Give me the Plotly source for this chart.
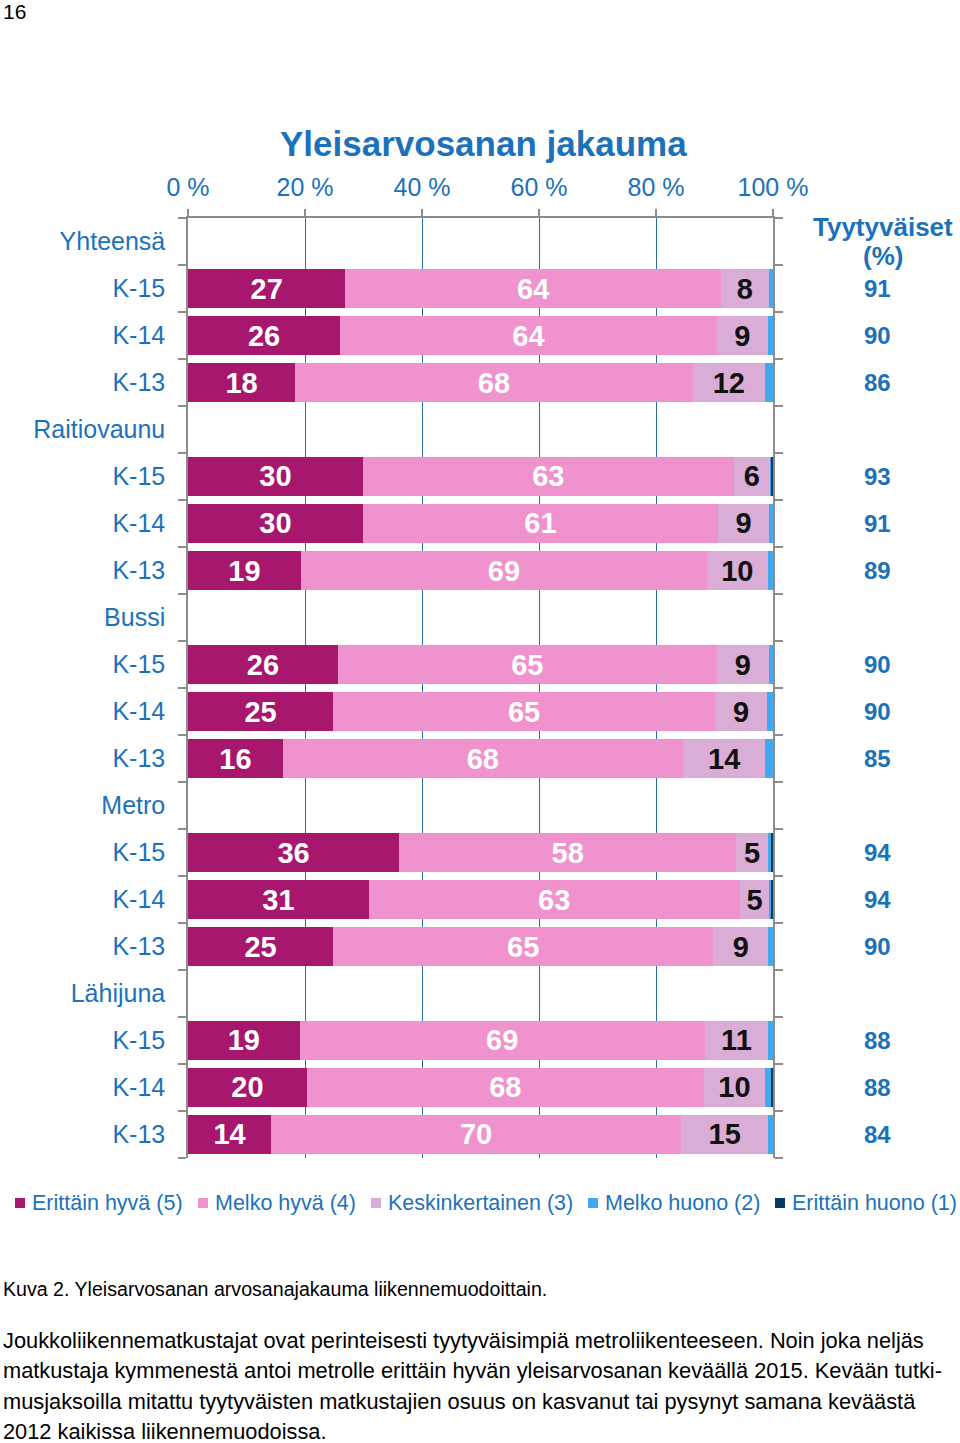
import plotly.graph_objects as go

# ---------------- data ----------------
groups = ["Yhteensä", "Raitiovaunu", "Bussi", "Metro", "Lähijuna"]
periods = ["K-15", "K-14", "K-13"]

erittain_hyva   = [26.9, 26.0, 18.3, 29.9, 29.9, 19.3, 25.6, 24.8, 16.2, 36.1, 30.9, 24.8, 19.1, 20.3, 14.2]
melko_hyva      = [64.2, 64.4, 68.0, 63.4, 60.7, 69.4, 64.8, 65.3, 68.4, 57.6, 63.4, 65.0, 69.2, 67.9, 70.1]
keskinkertainen = [8.2, 8.7, 12.3, 6.2, 8.7, 10.4, 8.9, 8.9, 14.1, 5.4, 5.1, 9.4, 10.9, 10.4, 14.9]
melko_huono     = [0.7, 0.9, 1.4, 0.3, 0.7, 0.9, 0.7, 1.0, 1.3, 0.5, 0.4, 0.8, 0.8, 1.0, 0.8]
erittain_huono  = [0.0, 0.0, 0.0, 0.3, 0.0, 0.0, 0.0, 0.0, 0.0, 0.4, 0.2, 0.0, 0.0, 0.4, 0.0]
tyytyvaiset     = [91, 90, 86, 93, 91, 89, 90, 90, 85, 94, 94, 90, 88, 88, 84]

series_names = ["Erittäin hyvä (5)", "Melko hyvä (4)", "Keskinkertainen (3)",
                "Melko huono (2)", "Erittäin huono (1)"]
series_colors = ["#A8176E", "#EF92CD", "#D9ADD6", "#40A9F0", "#0B3A60"]
label_colors = ["white", "white", "#111111", None, None]

x_ticks = [0, 20, 40, 60, 80, 100]

# ---------------- build rows ----------------
keys, labels, data_keys = [], [], []
for g in groups:
    keys.append(g)
    labels.append(g)
    for p in periods:
        k = f"{g} {p}"
        keys.append(k)
        labels.append(p)
        data_keys.append(k)

W, H = 960, 1443
L, R, T, B = 188, 773, 218, 1158  # plot area in pixels


def px(x):
    return (x - L) / (R - L)


def py(y):
    return (B - y) / (B - T)


BLUE = "#1C72BA"
GRID = "#2C6EA6"
GREY = "#8C8C8C"
FONT = "Liberation Sans, Arial, sans-serif"

fig = go.Figure()
all_series = [erittain_hyva, melko_hyva, keskinkertainen, melko_huono, erittain_huono]
for name, vals, col, tcol in zip(series_names, all_series, series_colors, label_colors):
    if tcol is not None:
        kw = dict(text=[f"{v:.0f}" for v in vals], texttemplate="<b>%{text}</b>",
                  textposition="inside", insidetextanchor="middle", textangle=0,
                  insidetextfont=dict(family=FONT, size=29, color=tcol))
    else:
        kw = dict(textposition="none")
    fig.add_trace(go.Bar(
        y=data_keys, x=vals, orientation="h", name=name,
        marker=dict(color=col, line=dict(width=0)),
        showlegend=False, hoverinfo="x+name", **kw))

annotations = []
# satisfied column
for k, v in zip(data_keys, tyytyvaiset):
    annotations.append(dict(x=px(877), xref="paper", y=k, yref="y", text=f"<b>{v}</b>",
                            showarrow=False, xanchor="center", yanchor="middle",
                            font=dict(family=FONT, size=24, color=BLUE)))
annotations.append(dict(x=px(883), xref="paper", y=py(227), yref="paper", text="<b>Tyytyväiset</b>",
                        showarrow=False, xanchor="center", yanchor="middle",
                        font=dict(family=FONT, size=26, color=BLUE)))
annotations.append(dict(x=px(883), xref="paper", y=py(256), yref="paper", text="<b>(%)</b>",
                        showarrow=False, xanchor="center", yanchor="middle",
                        font=dict(family=FONT, size=26, color=BLUE)))
# title
annotations.append(dict(x=px(483), xref="paper", y=py(143), yref="paper",
                        text="<b>Yleisarvosanan jakauma</b>", showarrow=False,
                        xanchor="center", yanchor="middle",
                        font=dict(family=FONT, size=35, color=BLUE)))
# page number
annotations.append(dict(x=px(1), xref="paper", y=py(12), yref="paper", text="16",
                        showarrow=False, xanchor="left", yanchor="middle",
                        font=dict(family=FONT, size=21, color="black")))

# legend (custom)
legend_x = [15, 198, 371, 588, 775]
shapes = []
for name, col, lx in zip(series_names, series_colors, legend_x):
    shapes.append(dict(type="rect", xref="paper", yref="paper",
                       x0=px(lx), x1=px(lx + 10), y0=py(1208), y1=py(1198),
                       fillcolor=col, line=dict(width=0)))
    annotations.append(dict(x=px(lx + 15), xref="paper", y=py(1203), yref="paper", text=name,
                            showarrow=False, xanchor="left", yanchor="middle",
                            font=dict(family=FONT, size=21.5, color=BLUE)))

# caption and paragraph
annotations.append(dict(x=px(1), xref="paper", y=py(1289), yref="paper",
                        text="Kuva 2. Yleisarvosanan arvosanajakauma liikennemuodoittain.",
                        showarrow=False, xanchor="left", yanchor="middle",
                        font=dict(family=FONT, size=19.6, color="black")))
para = [
    "Joukkoliikennematkustajat ovat perinteisesti tyytyväisimpiä metroliikenteeseen. Noin joka neljäs",
    "matkustaja kymmenestä antoi metrolle erittäin hyvän yleisarvosanan keväällä 2015. Kevään tutki-",
    "musjaksoilla mitattu tyytyväisten matkustajien osuus on kasvanut tai pysynyt samana keväästä",
    "2012 kaikissa liikennemuodoissa.",
]
for i, line in enumerate(para):
    annotations.append(dict(x=px(1), xref="paper", y=py(1340 + i * 30.5), yref="paper",
                            text=line, showarrow=False, xanchor="left", yanchor="middle",
                            font=dict(family=FONT, size=21.8, color="black")))

fig.update_layout(
    width=W, height=H,
    margin=dict(l=L, r=W - R, t=T, b=H - B, pad=0),
    barmode="stack", bargap=0.19,
    paper_bgcolor="white", plot_bgcolor="white",
    font=dict(family=FONT, color=BLUE),
    annotations=annotations, shapes=shapes,
    showlegend=False,
    xaxis=dict(side="top", range=[0, 100], tickmode="array", tickvals=x_ticks,
               ticktext=[f"{t} %" for t in x_ticks],
               tickfont=dict(family=FONT, size=25, color=BLUE),
               showgrid=True, gridcolor=GRID, gridwidth=1, zeroline=False,
               showline=True, linecolor=GREY, linewidth=1.5,
               ticks="outside", ticklen=7, tickcolor=GREY, tickwidth=1.5,
               ticklabelstandoff=3, fixedrange=True),
    yaxis=dict(type="category", categoryorder="array", categoryarray=keys,
               range=[len(keys) - 0.5, -0.5], tickmode="array", tickvals=keys, ticktext=labels,
               tickson="boundaries",
               tickfont=dict(family=FONT, size=25, color=BLUE),
               showgrid=False, zeroline=False,
               showline=True, linecolor=GREY, linewidth=1.5, mirror="ticks",
               ticks="outside", ticklen=8, tickcolor=GREY, tickwidth=1.5,
               ticklabelstandoff=16, fixedrange=True),
)

fig.write_html("out.html", config={"displayModeBar": False},
               post_script="document.body.style.margin='0';document.body.style.padding='0';")
